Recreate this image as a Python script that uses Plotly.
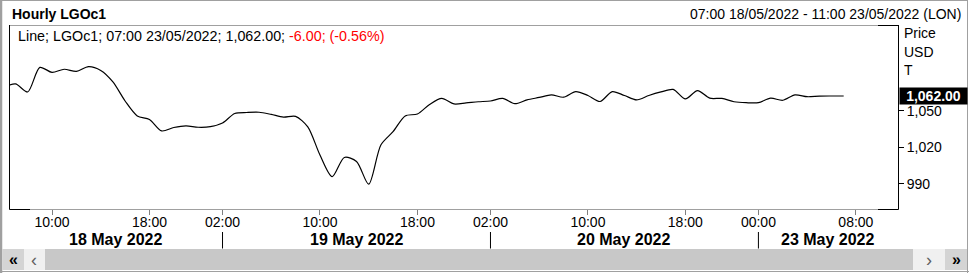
import plotly.graph_objects as go

# ---------------- data ----------------
# hourly trading-bar index (0 = 10:00 18 May 2022), values of LGOc1 (USD/T)
bar_index = list(range(-4, 66))
prices = [
    1068.6, 1071.9, 1065.3, 1085.4, 1081.3, 1083.9, 1082.1, 1086.0, 1082.9, 1073.5,
    1057.9, 1045.7, 1042.8, 1033.4, 1036.2, 1037.6, 1036.4, 1036.9, 1039.9, 1047.7,
    1048.5, 1048.7, 1046.9, 1044.7, 1045.3, 1036.7, 1013.7, 996.0, 1011.7, 1008.4,
    989.8, 1021.9, 1032.8, 1045.7, 1047.3, 1055.1, 1060.0, 1055.5, 1056.3, 1057.3,
    1057.9, 1060.0, 1055.7, 1058.8, 1060.8, 1062.9, 1061.0, 1065.6, 1062.4, 1057.5,
    1065.6, 1062.4, 1058.8, 1062.4, 1065.3, 1067.4, 1059.6, 1066.4, 1060.2, 1060.0,
    1057.3, 1056.5, 1056.5, 1060.2, 1058.5, 1062.9, 1061.4, 1061.9, 1062.0, 1062.0,
]
x_tick_index = [0, 8, 14, 22, 30, 36, 44, 52, 58, 66]
x_tick_text = ["10:00", "18:00", "02:00", "10:00", "18:00", "02:00", "10:00", "18:00", "00:00", "08:00"]
day_labels = ["18 May 2022", "19 May 2022", "20 May 2022", "23 May 2022"]
day_starts = [14, 36, 58]          # first bar of each new day
y_tick_vals = [990, 1020, 1050]
y_tick_text = ["990", "1,020", "1,050"]
last_price = 1062.00

x_range = [-3.45, 69.46]
y_range = [969.5, 1120.1]

# ---------------- geometry helpers ----------------
W, H = 969, 273
L, R, T, B = 10, 898, 25, 209


def px(x):
    return (x - L) / (R - L)


def py(y):
    return (B - y) / (B - T)


FONT = "Liberation Sans, Arial, sans-serif"

fig = go.Figure()
fig.add_trace(go.Scatter(
    x=bar_index, y=prices, mode="lines",
    line=dict(color="black", width=1.2, shape="spline", smoothing=0.8),
    hoverinfo="skip", showlegend=False,
))

shapes = []


def line(x0, y0, x1, y1, color, width=1):
    shapes.append(dict(type="line", xref="paper", yref="paper",
                       x0=px(x0), y0=py(y0), x1=px(x1), y1=py(y1),
                       line=dict(color=color, width=width), layer="above"))


def rect(x0, y0, x1, y1, fill):
    shapes.append(dict(type="rect", xref="paper", yref="paper",
                       x0=px(x0), y0=py(y0), x1=px(x1), y1=py(y1),
                       line=dict(width=0), fillcolor=fill, layer="below"))


# outer frame
line(1, 0.5, 968, 0.5, "#a0a0a0")
line(1, 0, 1, 273, "#a0a0a0", 2.5)
line(967.5, 0, 967.5, 273, "#a0a0a0")
line(0, 271.5, 969, 271.5, "#a0a0a0")

# plot frame
line(10, 25.5, 878, 25.5, "#a0a0a0")
line(878, 25.5, 898.5, 25.5, "black")
line(9.5, 25, 9.5, 209.5, "black")
line(898.5, 25, 898.5, 209.5, "black")
line(30, 209.5, 878, 209.5, "#a0a0a0")
line(9.5, 209.5, 30, 209.5, "black")
line(878, 209.5, 898.5, 209.5, "black")

# scrollbar
rect(2.5, 249, 24, 270, "#d4d4d4")
rect(24, 249, 45, 270, "#f0f0f0")
rect(45, 249, 913, 270, "#c8c8c8")
rect(913, 249, 945, 270, "#f0f0f0")
rect(945, 249, 967, 270, "#d4d4d4")

# day separators
for d in day_starts:
    shapes.append(dict(type="line", xref="x", yref="paper", x0=d, x1=d,
                       y0=py(232), y1=py(248.5), line=dict(color="black", width=1)))

annotations = []


def text(x, y, s, size=14, color="black", xanchor="left", bold=False, xref="paper", yref="paper", **kw):
    annotations.append(dict(
        x=x, y=y, xref=xref, yref=yref, text=("<b>%s</b>" % s) if bold else s,
        showarrow=False, xanchor=xanchor, yanchor="middle",
        font=dict(family=FONT, size=size, color=color), **kw))


text(px(10), py(14.3), "Hourly LGOc1", size=14, bold=True)
text(px(963), py(13.8), "07:00 18/05/2022 - 11:00 23/05/2022 (LON)", size=14, xanchor="right")
text(px(16), py(35.5),
     "Line; LGOc1; 07:00 23/05/2022; 1,062.00; <span style='color:#ff0000'>-6.00; (-0.56%)</span>",
     size=14.3)
text(px(902), py(33), "Price", size=14)
text(px(902), py(51.5), "USD", size=14)
text(px(902), py(70), "T", size=14)

# last price tag
annotations.append(dict(
    x=px(898.5), y=last_price, xref="paper", yref="y", xanchor="left", yanchor="middle",
    text="<b>1,062.00</b>", showarrow=False, bgcolor="black", borderpad=0,
    width=67, height=16, align="center",
    font=dict(family=FONT, size=14, color="white")))

# day labels centred over visible part of each day
bounds = [x_range[0]] + day_starts + [x_range[1]]
for i, lab in enumerate(day_labels):
    mid = (bounds[i] + bounds[i + 1]) / 2
    text(mid, py(239), lab, size=16, bold=True, xanchor="center", xref="x")

# scrollbar glyphs
text(px(13), py(259.5), "«", size=16, bold=True, xanchor="center")
text(px(34), py(259.5), "‹", size=18, color="#606060", xanchor="center")
text(px(929), py(259.5), "›", size=18, color="#606060", xanchor="center")
text(px(956), py(259.5), "»", size=16, bold=True, xanchor="center")

fig.update_layout(
    width=W, height=H, autosize=False,
    margin=dict(l=L, r=W - R, t=T, b=H - B, pad=0),
    paper_bgcolor="white", plot_bgcolor="white",
    shapes=shapes, annotations=annotations,
    xaxis=dict(range=x_range, tickvals=x_tick_index, ticktext=x_tick_text,
               ticks="outside", ticklen=5, tickcolor="#808080", showgrid=False,
               zeroline=False, showline=False, fixedrange=True, ticklabelstandoff=-5,
               tickfont=dict(family=FONT, size=14, color="black")),
    yaxis=dict(range=y_range, side="right", tickvals=y_tick_vals, ticktext=y_tick_text,
               ticks="outside", ticklen=5, tickcolor="black", showgrid=False,
               zeroline=False, showline=False, fixedrange=True,
               tickfont=dict(family=FONT, size=14, color="black")),
)

fig.write_html("out.html", config={"displayModeBar": False})
